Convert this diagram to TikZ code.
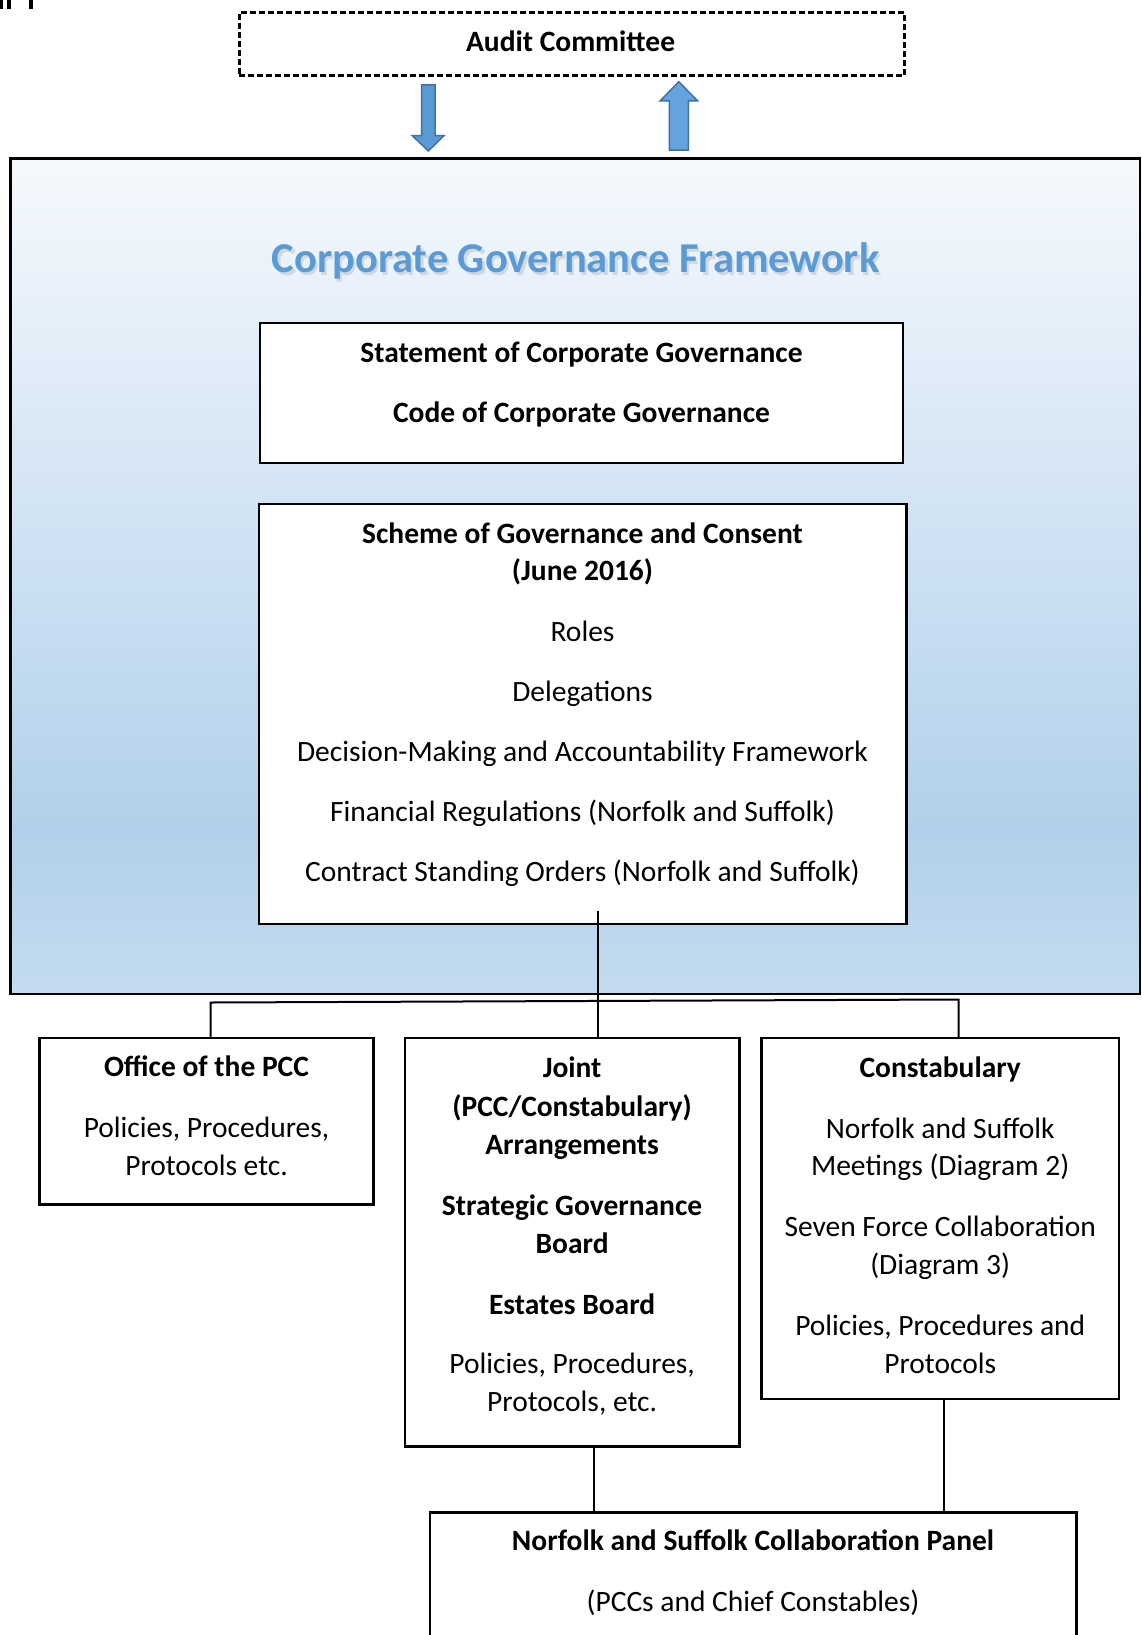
\documentclass[tikz,border=0pt]{standalone}
\usepackage{fontspec}
\setmainfont{Carlito}
\definecolor{ctop}{HTML}{F5F9FD}
\definecolor{cdark}{HTML}{B2D0EB}
\definecolor{cbot}{HTML}{C4DBF0}
\definecolor{titleblue}{HTML}{5B9BD5}
\definecolor{arrowfill}{HTML}{5B9BD5}
\definecolor{arrowfilltwo}{HTML}{63A4E0}
\definecolor{arrowline}{HTML}{41719C}
\pgfdeclareverticalshading{cgfshade}{100bp}{color(0bp)=(cbot); color(25bp)=(cbot); color(34.8bp)=(cdark); color(75bp)=(ctop); color(100bp)=(ctop)}
\begin{document}
\begin{tikzpicture}[x=1pt,y=-1pt,
  box/.style={draw, line width=2.3pt, inner sep=0pt, outer sep=0pt, anchor=north west, fill=white},
  txt/.style={anchor=base, inner sep=0pt, font=\fontsize{29.5}{37.5}\selectfont},
  btxt/.style={anchor=base, inner sep=0pt, font=\fontsize{29.5}{37.5}\selectfont\bfseries},
  conn/.style={line width=2pt},
  barrow/.style={fill=arrowfill, draw=arrowline, line width=1.5pt, line join=miter}]
\useasboundingbox (0,0) rectangle (1141,1635);
\clip (0,0) rectangle (1141,1635);
\fill[white] (0,0) rectangle (1141,1635);
% remnants top-left
\fill[black] (0,0) rectangle (2.7,9);
\fill[black] (7.3,0) rectangle (11,9);
\fill[black] (28.7,0) rectangle (32.7,9);
% audit committee
\node[box, line width=3pt, dash pattern=on 6pt off 3pt, minimum width=665pt, minimum height=63.5pt] (audit) at (239,12.5) {};
\node[btxt] (audittxt) at (570.6,51.7) {Audit Committee};
% block arrows
\draw[barrow] (421.7,85) -- (435,85) -- (435,135.7) -- (444,135.7) -- (428.35,151) -- (412.3,135.7) -- (421.7,135.7) -- cycle;
\draw[barrow, fill=arrowfilltwo] (669.3,150) -- (688.3,150) -- (688.3,101) -- (697.7,101) -- (678.8,81.7) -- (660,101) -- (669.3,101) -- cycle;
% framework container
\node[draw, line width=2.6pt, shade, shading=cgfshade, anchor=north west, minimum width=1129.6pt, minimum height=835.5pt, inner sep=0pt, outer sep=0pt] (frame) at (10.4,158.5) {};
\node[anchor=base, inner sep=0pt, font=\fontsize{42.5}{50}\selectfont\bfseries, text=black!35, opacity=0.35] (titleshadow) at (577.9,275.8) {Corporate Governance Framework};
\node[anchor=base, inner sep=0pt, font=\fontsize{42.5}{50}\selectfont\bfseries, text=titleblue] (title) at (575.7,272.7) {Corporate Governance Framework};
% statement box
\node[box, minimum width=643.5pt, minimum height=139.7pt] (stmt) at (259.7,323.3) {};
\node[btxt] (stmt1) at (581.5,362) {Statement of Corporate Governance};
\node[btxt] (stmt2) at (581.5,422.5) {Code of Corporate Governance};
% scheme box
\node[box, minimum width=647.7pt, minimum height=420.3pt] (scheme) at (258.7,503.7) {};
\node[btxt] (sch1) at (582.5,543.3) {Scheme of Governance and Consent};
\node[btxt] (sch2) at (582.5,580.7) {(June 2016)};
\node[txt] (sch3) at (582.5,641.5) {Roles};
\node[txt] (sch4) at (582.5,701.5) {Delegations};
\node[txt] (sch5) at (582.5,761.5) {Decision-Making and Accountability Framework};
\node[txt] (sch6) at (582.5,821.5) {Financial Regulations (Norfolk and Suffolk)};
\node[txt] (sch7) at (582.5,881.5) {Contract Standing Orders (Norfolk and Suffolk)};
% office box
\node[box, minimum width=333.8pt, minimum height=166.6pt] (office) at (39.6,1038) {};
\node[btxt] (off1) at (206.5,1076.5) {Office of the PCC};
\node[txt] (off2) at (206.5,1137) {Policies, Procedures,};
\node[txt] (off3) at (206.5,1175) {Protocols etc.};
% joint box
\node[box, minimum width=334.8pt, minimum height=408.6pt] (joint) at (404.7,1038) {};
\node[btxt] (j1) at (572.1,1077.5) {Joint};
\node[btxt] (j2) at (572.1,1116) {(PCC/Constabulary)};
\node[btxt] (j3) at (572.1,1154.7) {Arrangements};
\node[btxt] (j4) at (572.1,1215.2) {Strategic Governance};
\node[btxt] (j5) at (572.1,1253.8) {Board};
\node[btxt] (j6) at (572.1,1314.3) {Estates Board};
\node[txt] (j7) at (572.1,1373.7) {Policies, Procedures,};
\node[txt] (j8) at (572.1,1411.3) {Protocols, etc.};
% constabulary box
\node[box, minimum width=357.6pt, minimum height=360.7pt] (const) at (761.4,1038) {};
\node[btxt] (c1) at (940.2,1077.5) {Constabulary};
\node[txt] (c2) at (940.2,1138) {Norfolk and Suffolk};
\node[txt] (c3) at (940.2,1175.5) {Meetings (Diagram 2)};
\node[txt] (c4) at (940.2,1236) {Seven Force Collaboration};
\node[txt] (c5) at (940.2,1274.6) {(Diagram 3)};
\node[txt] (c6) at (940.2,1335) {Policies, Procedures and};
\node[txt] (c7) at (940.2,1373.7) {Protocols};
% collaboration panel
\node[box, minimum width=646.7pt, minimum height=200pt] (panel) at (429.7,1512.4) {};
\node[btxt] (p1) at (753,1550.5) {Norfolk and Suffolk Collaboration Panel};
\node[txt] (p2) at (753,1611.5) {(PCCs and Chief Constables)};
% connectors
\coordinate (stem) at (597.6,910.5);
\draw[conn] (stem) -- (stem |- joint.north);
\coordinate (hl) at (210.7,1002.5);
\coordinate (hr) at (958.5,999.5);
\draw[conn] (hl |- office.north) -- (hl) -- (hr) -- (hr |- const.north);
\coordinate (jx) at (593.5,1480);
\draw[conn] (jx |- joint.south) -- (jx |- panel.north);
\coordinate (cx) at (944,1480);
\draw[conn] (cx |- const.south) -- (cx |- panel.north);
\end{tikzpicture}
\end{document}
